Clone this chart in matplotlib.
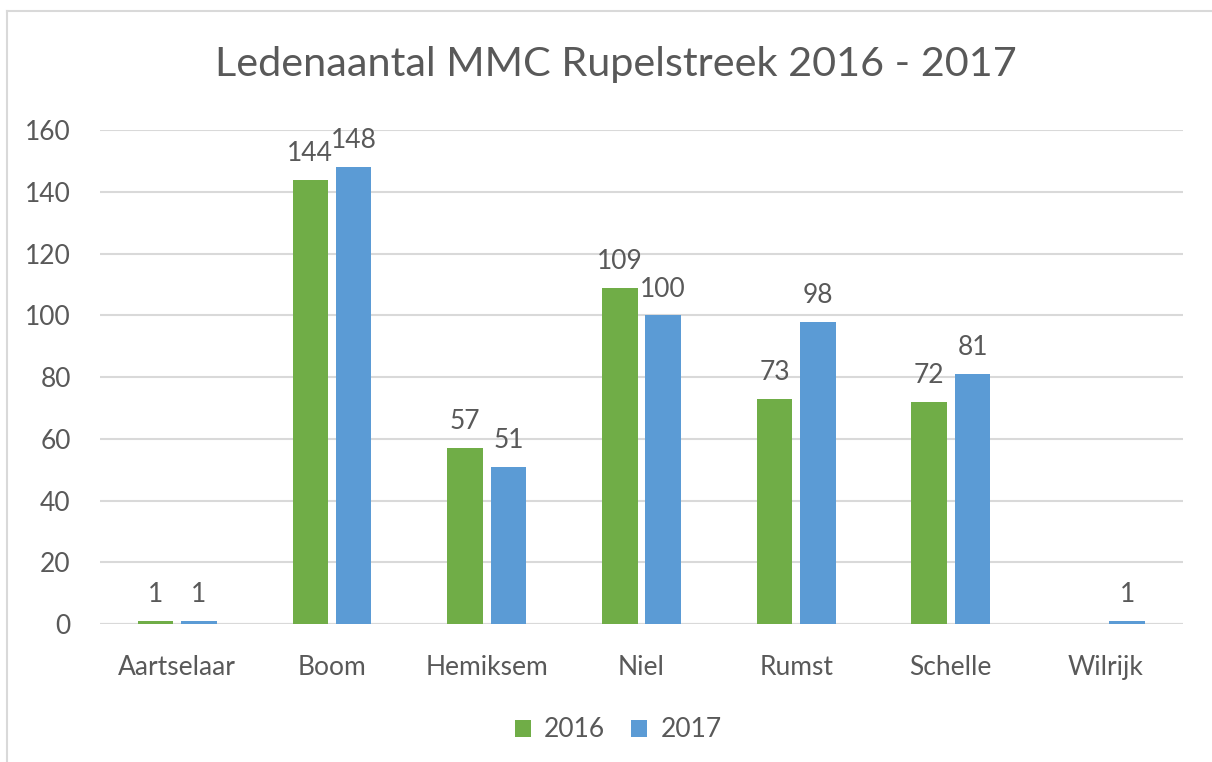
import matplotlib
matplotlib.use("Agg")
from matplotlib import pyplot as plt
from matplotlib.lines import Line2D
import numpy as np

plt.rcParams['font.family'] = ['Lato', 'DejaVu Sans']

gemeenten = ['Aartselaar', 'Boom', 'Hemiksem', 'Niel', 'Rumst', 'Schelle', 'Wilrijk']
leden_2016 = [1, 144, 57, 109, 73, 72, None]
leden_2017 = [1, 148, 51, 100, 98, 81, 1]
jaren = ['2016', '2017']

groen = '#70AD47'
blauw = '#5B9BD5'
tekst = '#595959'
raster = '#D9D9D9'

fig = plt.figure(figsize=(12.12, 7.62), dpi=100)
ax = fig.add_axes([0.0825, 0.181, 0.8935, 0.648])

x = np.arange(len(gemeenten))
breedte = 0.23
offset = 0.14

for reeks, kleur, dx, naam in [(leden_2016, groen, -offset, jaren[0]),
                               (leden_2017, blauw, offset, jaren[1])]:
    xs = [xi + dx for xi, v in zip(x, reeks) if v is not None]
    vs = [v for v in reeks if v is not None]
    ax.bar(xs, vs, width=breedte, color=kleur, label=naam, zorder=3)
    # waarde boven elke staaf
    for xi, v in zip(xs, vs):
        ax.annotate(str(v), xy=(xi, v), xytext=(0, 10), textcoords='offset points',
                    ha='center', va='bottom', fontsize=19, color=tekst)

ax.set_xlim(-0.5, len(gemeenten) - 0.5)
ax.set_ylim(0, 160)
ax.set_yticks(range(0, 161, 20))
ax.set_xticks(x)
ax.set_xticklabels(gemeenten)
ax.tick_params(axis='both', length=0, labelsize=19, labelcolor=tekst)
ax.tick_params(axis='x', pad=22)
ax.tick_params(axis='y', pad=21)
ax.grid(axis='y', color=raster, linewidth=1.5, zorder=0)
for s in ax.spines.values():
    s.set_visible(False)
ax.axhline(0, color=raster, linewidth=1.5, zorder=2)

fig.text(0.508, 0.915, 'Ledenaantal MMC Rupelstreek 2016 - 2017',
         ha='center', va='center', fontsize=29.8, color=tekst)

fig.legend(loc='center', bbox_to_anchor=(0.51, 0.042), ncol=2, frameon=False,
           fontsize=19, labelcolor=tekst, handlelength=0.6, handleheight=0.6,
           handletextpad=0.5, columnspacing=1.0)

# kaderlijnen van de grafiek
fig.add_artist(Line2D([0.006, 1.0], [0.985, 0.985], color=raster, linewidth=1.5))
fig.add_artist(Line2D([0.006, 0.006], [0.0, 0.985], color=raster, linewidth=1.5))

fig.savefig('out.png', dpi=100)
